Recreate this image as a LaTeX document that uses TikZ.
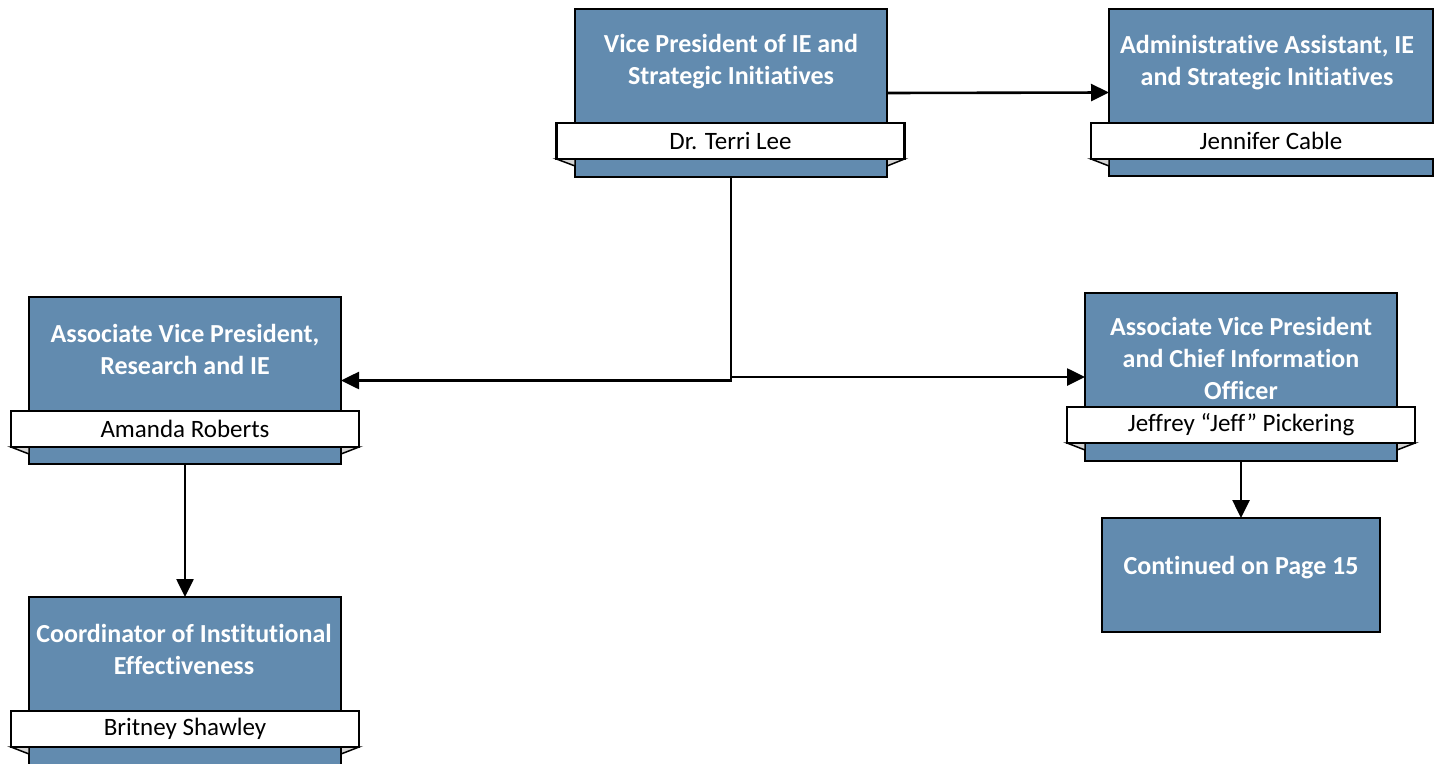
\documentclass[tikz,border=0pt]{standalone}
\usepackage{fontspec}
\setmainfont{Carlito}[RawFeature=-liga]
\usetikzlibrary{arrows.meta}
\definecolor{boxblue}{RGB}{98,139,175}
\definecolor{foldgray}{RGB}{212,212,212}
\tikzset{
  orgbox/.style={draw=black, line width=2.6pt, fill=boxblue, minimum width=312pt, minimum height=168pt, inner sep=0pt, outer sep=0pt},
  banner/.style={draw=black, line width=2.3pt, fill=white, minimum width=348pt, minimum height=36pt, inner sep=0pt, outer sep=0pt, font=\fontsize{25}{30}\selectfont},
  titletext/.style={text=white, font=\bfseries\fontsize{26}{32}\selectfont, align=center, inner sep=0pt},
  fold/.style={draw=black, line width=1.5pt, fill=foldgray, line join=miter},
  conn/.style={line width=2.6pt, -{Triangle[length=18pt,width=17pt]}}
}
\begin{document}
\begin{tikzpicture}[x=1pt,y=-1pt]
\useasboundingbox (0,0) rectangle (1434,763);
\fill[white] (0,0) rectangle (1434,763);

% Vice President
\node[orgbox] (vp) at (731,93) {};
\node[banner] (vpn) at (730.5,141) {Dr. Terri Lee};
\draw[fold] (vpn.south west) -- (vp.west |- vpn.south) -- ++(0,7) -- cycle;
\draw[fold] (vpn.south east) -- (vp.east |- vpn.south) -- ++(0,7) -- cycle;
\node[titletext] (vpt) at (731,62) {Vice President of IE and\\Strategic Initiatives};

% Administrative Assistant
\node[orgbox, minimum width=324pt, minimum height=167pt] (adm) at (1271,92.5) {};
\node[banner, minimum width=360pt] (admn) at (1271,141) {Jennifer Cable};
\draw[fold] (admn.south west) -- (adm.west |- admn.south) -- ++(0,7) -- cycle;
\node[titletext] (admt) at (1267,63) {Administrative Assistant, IE\\and Strategic Initiatives};

% AVP Research and IE
\node[orgbox, minimum height=167pt] (avp) at (185,380.5) {};
\node[banner] (avpn) at (185,429) {Amanda Roberts};
\draw[fold] (avpn.south west) -- (avp.west |- avpn.south) -- ++(0,7) -- cycle;
\draw[fold] (avpn.south east) -- (avp.east |- avpn.south) -- ++(0,7) -- cycle;
\node[titletext] (avpt) at (185,349) {Associate Vice President,\\Research and IE};

% Coordinator
\node[orgbox] (coord) at (185,681) {};
\node[banner] (coordn) at (185,729) {Britney Shawley};
\draw[fold] (coordn.south west) -- (coord.west |- coordn.south) -- ++(0,7) -- cycle;
\draw[fold] (coordn.south east) -- (coord.east |- coordn.south) -- ++(0,7) -- cycle;
\node[titletext] (coordt) at (184,649) {Coordinator of Institutional\\Effectiveness};

% AVP CIO
\node[orgbox] (cio) at (1241,377) {};
\node[titletext] (ciot) at (1241,358) {Associate Vice President\\and Chief Information\\Officer};
\node[banner] (cion) at (1241,425) {Jeffrey “Jeff” Pickering};
\draw[fold] (cion.south west) -- (cio.west |- cion.south) -- ++(0,7) -- cycle;
\draw[fold] (cion.south east) -- (cio.east |- cion.south) -- ++(0,7) -- cycle;

% Continued
\node[orgbox, minimum width=278pt, minimum height=114pt] (cont) at (1241,575) {};
\node[titletext] (contt) at (1241,568) {Continued on Page 15};

% Connectors
\draw[conn] (vp.east) -- (adm.west);
\draw[conn] (vp.south) |- (avp.east);
\draw[conn] (vp.south) |- (cio.west);
\draw[conn] (avp.south) -- (coord.north);
\draw[conn] (cio.south) -- (cont.north);
\end{tikzpicture}
\end{document}
